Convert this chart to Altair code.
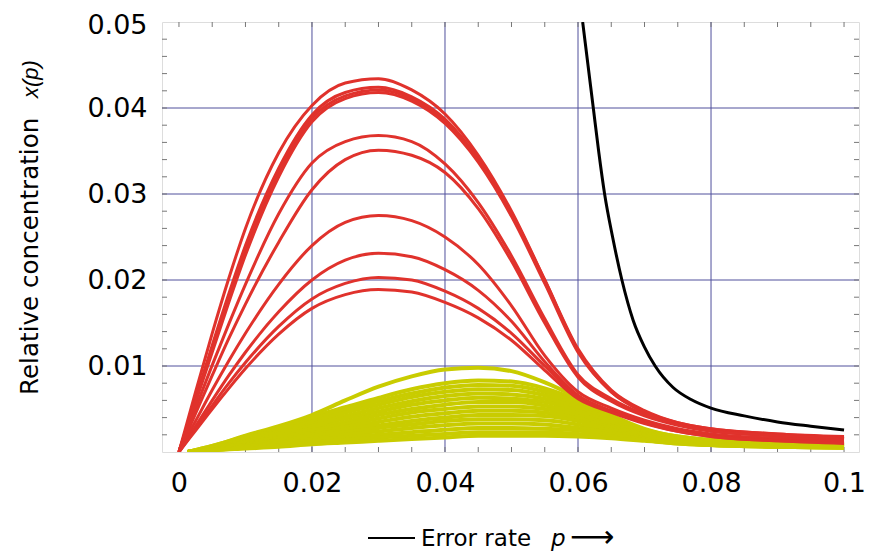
import altair as alt
import pandas as pd

# ---------------- data ----------------
X = [0, 0.0025, 0.005, 0.0075, 0.01, 0.015, 0.02, 0.025, 0.03, 0.035, 0.04,
     0.045, 0.05, 0.055, 0.06, 0.065, 0.07, 0.075, 0.08, 0.09, 0.1]

red_A = [0, 0.0070, 0.0138, 0.0202, 0.0260, 0.0348, 0.0403, 0.0429, 0.0434, 0.0421, 0.0393, 0.0345, 0.0280, 0.0200, 0.0118, 0.0070, 0.0047, 0.0034, 0.0027, 0.0021, 0.0018]
red_B = [0, 0.0062, 0.0124, 0.0184, 0.0240, 0.0330, 0.0392, 0.0418, 0.0424, 0.0413, 0.0387, 0.0341, 0.0278, 0.0200, 0.0120, 0.0072, 0.0048, 0.0034, 0.0027, 0.0021, 0.0017]
red_C = [0, 0.0060, 0.0120, 0.0179, 0.0235, 0.0325, 0.0388, 0.0414, 0.0421, 0.0411, 0.0385, 0.0339, 0.0276, 0.0198, 0.0118, 0.0071, 0.0047, 0.0033, 0.0026, 0.0020, 0.0016]
red_D = [0, 0.0058, 0.0116, 0.0174, 0.0229, 0.0320, 0.0384, 0.0411, 0.0418, 0.0408, 0.0382, 0.0337, 0.0274, 0.0196, 0.0116, 0.0070, 0.0046, 0.0032, 0.0025, 0.0019, 0.0015]
red_E = [0, 0.0051, 0.0101, 0.0149, 0.0195, 0.0277, 0.0336, 0.0361, 0.0368, 0.0361, 0.0335, 0.0290, 0.0228, 0.0155, 0.0090, 0.0062, 0.0044, 0.0032, 0.0025, 0.0019, 0.0016]
red_F = [0, 0.0045, 0.0089, 0.0132, 0.0172, 0.0244, 0.0305, 0.0340, 0.0351, 0.0345, 0.0325, 0.0283, 0.0222, 0.0150, 0.0087, 0.0059, 0.0042, 0.0031, 0.0024, 0.0019, 0.0015]
red_G = [0, 0.0036, 0.0072, 0.0106, 0.0138, 0.0195, 0.0240, 0.0267, 0.0275, 0.0269, 0.0250, 0.0218, 0.0170, 0.0112, 0.0070, 0.0051, 0.0037, 0.0027, 0.0021, 0.0016, 0.0014]
red_H = [0, 0.0030, 0.0060, 0.0089, 0.0116, 0.0163, 0.0200, 0.0223, 0.0231, 0.0227, 0.0212, 0.0188, 0.0152, 0.0105, 0.0066, 0.0048, 0.0035, 0.0025, 0.0019, 0.0014, 0.0012]
red_I = [0, 0.0027, 0.0054, 0.0080, 0.0104, 0.0146, 0.0178, 0.0196, 0.0203, 0.0200, 0.0187, 0.0167, 0.0138, 0.0100, 0.0064, 0.0047, 0.0034, 0.0024, 0.0018, 0.0013, 0.0011]
red_J = [0, 0.0025, 0.0050, 0.0074, 0.0097, 0.0137, 0.0167, 0.0183, 0.0189, 0.0186, 0.0174, 0.0156, 0.0130, 0.0095, 0.0062, 0.0046, 0.0033, 0.0024, 0.0018, 0.0013, 0.0010]
RED = [red_A, red_B, red_C, red_D, red_E, red_F, red_G, red_H, red_I, red_J]

YX = [0.0013, 0.005, 0.01, 0.015, 0.02, 0.025, 0.03, 0.035, 0.04, 0.045,
      0.05, 0.055, 0.06, 0.065, 0.07, 0.075, 0.08, 0.09, 0.1]
yel_01 = [0, 0.0007, 0.0019, 0.0030, 0.0043, 0.0060, 0.0076, 0.0088, 0.0096, 0.0098, 0.0094, 0.0081, 0.0063, 0.0043, 0.0027, 0.0018, 0.0014, 0.0011, 0.0009]
yel_02 = [0, 0.0007, 0.0018, 0.0029, 0.0041, 0.0052, 0.0063, 0.0073, 0.0080, 0.0083, 0.0082, 0.0074, 0.0060, 0.0041, 0.0026, 0.0018, 0.0014, 0.0011, 0.0009]
yel_03 = [0, 0.0006, 0.0016, 0.0027, 0.0038, 0.0049, 0.0059, 0.0068, 0.0075, 0.0078, 0.0077, 0.0070, 0.0057, 0.0039, 0.0025, 0.0017, 0.0013, 0.0010, 0.0009]
yel_04 = [0, 0.0006, 0.0015, 0.0025, 0.0035, 0.0046, 0.0055, 0.0064, 0.0070, 0.0073, 0.0072, 0.0066, 0.0054, 0.0037, 0.0024, 0.0017, 0.0013, 0.0010, 0.0008]
yel_05 = [0, 0.0005, 0.0014, 0.0023, 0.0032, 0.0042, 0.0051, 0.0059, 0.0065, 0.0068, 0.0067, 0.0062, 0.0051, 0.0035, 0.0023, 0.0016, 0.0012, 0.0009, 0.0008]
yel_06 = [0, 0.0005, 0.0013, 0.0021, 0.0030, 0.0039, 0.0047, 0.0055, 0.0060, 0.0063, 0.0062, 0.0058, 0.0048, 0.0033, 0.0022, 0.0015, 0.0012, 0.0009, 0.0008]
yel_07 = [0, 0.0004, 0.0012, 0.0019, 0.0027, 0.0035, 0.0043, 0.0050, 0.0055, 0.0058, 0.0058, 0.0054, 0.0045, 0.0031, 0.0021, 0.0015, 0.0011, 0.0009, 0.0007]
yel_08 = [0, 0.0004, 0.0011, 0.0017, 0.0025, 0.0032, 0.0039, 0.0046, 0.0050, 0.0053, 0.0053, 0.0050, 0.0042, 0.0030, 0.0020, 0.0014, 0.0011, 0.0008, 0.0007]
yel_09 = [0, 0.0004, 0.0010, 0.0016, 0.0022, 0.0029, 0.0035, 0.0041, 0.0045, 0.0048, 0.0048, 0.0046, 0.0039, 0.0028, 0.0019, 0.0013, 0.0010, 0.0008, 0.0007]
yel_10 = [0, 0.0003, 0.0009, 0.0014, 0.0020, 0.0026, 0.0031, 0.0036, 0.0040, 0.0043, 0.0043, 0.0042, 0.0036, 0.0026, 0.0018, 0.0013, 0.0010, 0.0008, 0.0006]
yel_11 = [0, 0.0003, 0.0008, 0.0013, 0.0018, 0.0023, 0.0028, 0.0032, 0.0036, 0.0038, 0.0038, 0.0037, 0.0032, 0.0024, 0.0017, 0.0012, 0.0009, 0.0007, 0.0006]
yel_12 = [0, 0.0003, 0.0007, 0.0011, 0.0015, 0.0020, 0.0024, 0.0028, 0.0031, 0.0033, 0.0033, 0.0032, 0.0028, 0.0022, 0.0016, 0.0011, 0.0009, 0.0007, 0.0006]
yel_13 = [0, 0.0002, 0.0006, 0.0010, 0.0013, 0.0017, 0.0020, 0.0023, 0.0026, 0.0028, 0.0028, 0.0027, 0.0025, 0.0020, 0.0015, 0.0011, 0.0008, 0.0006, 0.0005]
yel_14 = [0, 0.0002, 0.0005, 0.0008, 0.0011, 0.0014, 0.0017, 0.0019, 0.0021, 0.0023, 0.0023, 0.0023, 0.0021, 0.0018, 0.0014, 0.0010, 0.0008, 0.0006, 0.0005]
yel_15 = [0, 0.0002, 0.0004, 0.0006, 0.0009, 0.0011, 0.0013, 0.0015, 0.0017, 0.0019, 0.0019, 0.0019, 0.0018, 0.0016, 0.0013, 0.0010, 0.0008, 0.0006, 0.0005]
YEL = [yel_01, yel_02, yel_03, yel_04, yel_05, yel_06, yel_07, yel_08, yel_09,
       yel_10, yel_11, yel_12, yel_13, yel_14, yel_15]

BLACK_X = [0.0607, 0.0615, 0.0623, 0.0631, 0.064, 0.0652, 0.0666, 0.0683, 0.07,
           0.0716, 0.0743, 0.077, 0.08, 0.085, 0.09, 0.095, 0.1]
BLACK_Y = [0.05, 0.045, 0.04, 0.035, 0.03, 0.025, 0.02, 0.0153, 0.0122,
           0.01, 0.0075, 0.0061, 0.0051, 0.0042, 0.0035, 0.003, 0.00255]

X_LABELS = [0, 0.02, 0.04, 0.06, 0.08, 0.1]
Y_LABELS = [0.01, 0.02, 0.03, 0.04, 0.05]
X_GRID = [0.02, 0.04, 0.06, 0.08]
Y_GRID = [0.01, 0.02, 0.03, 0.04]
X_MINOR = [0, 0.005, 0.01, 0.015, 0.02, 0.025, 0.03, 0.035, 0.04, 0.045, 0.05,
           0.055, 0.06, 0.065, 0.07, 0.075, 0.08, 0.085, 0.09, 0.095, 0.1]
Y_MINOR = [0.002, 0.004, 0.006, 0.008, 0.01, 0.012, 0.014, 0.016, 0.018, 0.02,
           0.022, 0.024, 0.026, 0.028, 0.03, 0.032, 0.034, 0.036, 0.038, 0.04,
           0.042, 0.044, 0.046, 0.048]

# ---------------- tables ----------------
def long_table(xs, curves, prefix):
    rows = []
    for i, ys in enumerate(curves):
        for x, y in zip(xs, ys):
            rows.append({"p": x, "v": y, "curve": f"{prefix}{i:02d}"})
    return pd.DataFrame(rows)

red_df = long_table(X, RED, "r")
yel_df = long_table(YX, YEL, "y")
blk_df = pd.DataFrame({"p": BLACK_X, "v": BLACK_Y, "curve": "b"})

W, H = 697, 430
FONT = "DejaVu Sans"
GRID = "#50509c"

xscale = alt.Scale(domain=[-0.00255, 0.10225], nice=False, zero=False)
yscale = alt.Scale(domain=[0, 0.05], nice=False)

xaxis = alt.Axis(values=X_LABELS, format="~g", grid=False, ticks=False, domain=False,
                 labelFont=FONT, labelFontSize=27, labelColor="black",
                 labelPadding=18, title=None, labelFlush=False)
yaxis = alt.Axis(values=Y_LABELS, format="~g", grid=False, ticks=False, domain=False,
                 labelFont=FONT, labelFontSize=27, labelColor="black",
                 labelPadding=15, title=None, labelFlush=False,
                 labelOffset={"condition": {"test": "datum.value > 0.049", "value": 3},
                              "value": 0})

base_x = alt.X("p:Q", scale=xscale, axis=xaxis)
base_y = alt.Y("v:Q", scale=yscale, axis=yaxis)

xgrid = alt.Chart(pd.DataFrame({"p": X_GRID})).mark_rule(color=GRID, strokeWidth=1).encode(
    x=alt.X("p:Q", scale=xscale, axis=xaxis))
ygrid = alt.Chart(pd.DataFrame({"v": Y_GRID})).mark_rule(color=GRID, strokeWidth=1).encode(
    y=alt.Y("v:Q", scale=yscale, axis=yaxis))

xm = pd.DataFrame({"p": X_MINOR})
ym = pd.DataFrame({"v": Y_MINOR})
TK = "#777777"
xmin_b = alt.Chart(xm).mark_rule(color=TK, strokeWidth=1).encode(
    x=alt.X("p:Q", scale=xscale), y=alt.value(H), y2=alt.value(H - 5))
xmin_t = alt.Chart(xm).mark_rule(color=TK, strokeWidth=1).encode(
    x=alt.X("p:Q", scale=xscale), y=alt.value(0), y2=alt.value(5))
ymin_l = alt.Chart(ym).mark_rule(color=TK, strokeWidth=1).encode(
    y=alt.Y("v:Q", scale=yscale), x=alt.value(0), x2=alt.value(5))
ymin_r = alt.Chart(ym).mark_rule(color=TK, strokeWidth=1).encode(
    y=alt.Y("v:Q", scale=yscale), x=alt.value(W), x2=alt.value(W - 5))

yellow = alt.Chart(yel_df).mark_line(color="#c9cc00", strokeWidth=4, interpolate="monotone",
                                     clip=True).encode(x=base_x, y=base_y, detail="curve:N")
red = alt.Chart(red_df).mark_line(color="#e0322c", strokeWidth=3, interpolate="monotone",
                                  clip=True).encode(x=base_x, y=base_y, detail="curve:N")
black = alt.Chart(blk_df).mark_line(color="black", strokeWidth=3, interpolate="monotone",
                                    clip=True).encode(x=base_x, y=base_y, detail="curve:N")

# axis titles as text pieces (italic symbols)
one = pd.DataFrame({"a": [0]})
TB = 524  # baseline of the x title, plot coordinates
dash = alt.Chart(one).mark_rule(color="black", strokeWidth=1.8).encode(
    x=alt.value(206), x2=alt.value(253), y=alt.value(516))
t_err = alt.Chart(one).mark_text(text="Error rate", font=FONT, fontSize=23, align="left",
                                 baseline="alphabetic", color="black").encode(
    x=alt.value(259), y=alt.value(TB))
t_p = alt.Chart(one).mark_text(text="p", font=FONT, fontSize=23, fontStyle="italic",
                               align="left", baseline="alphabetic", color="black").encode(
    x=alt.value(389), y=alt.value(TB))
t_arrow = alt.Chart(one).mark_text(text="⟶", font=FONT, fontSize=31, align="left",
                                   baseline="alphabetic", color="black").encode(
    x=alt.value(408), y=alt.value(TB + 1))

t_ytitle = alt.Chart(one).mark_text(text="Relative concentration", font=FONT, fontSize=24.6,
                                    angle=270, align="left", baseline="middle",
                                    color="black").encode(x=alt.value(-131), y=alt.value(373))
t_xp = alt.Chart(one).mark_text(text="x(p)", font="Liberation Sans", fontSize=22,
                                fontStyle="italic", angle=270, align="left",
                                baseline="middle", color="black").encode(
    x=alt.value(-131), y=alt.value(76))

chart = alt.layer(
    xgrid, ygrid, xmin_b, xmin_t, ymin_l, ymin_r,
    yellow, red, black,
    dash, t_err, t_p, t_arrow, t_ytitle, t_xp,
).properties(
    width=W, height=H,
    autosize="none",
    padding={"left": 154, "top": 14, "right": 12, "bottom": 104},
).configure_view(
    stroke="#808080", strokeWidth=1
).configure(background="white")

chart.save("out.html", embed_options={"renderer": "svg", "actions": False})
